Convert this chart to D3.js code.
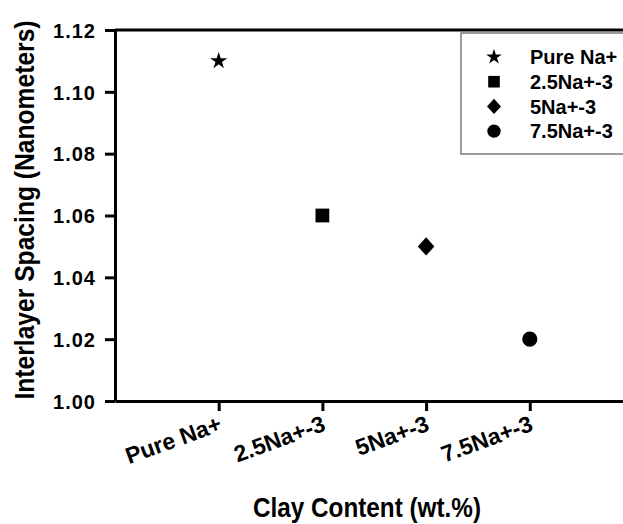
<!DOCTYPE html>
<html>
<head>
<meta charset="utf-8">
<script src="https://cdn.jsdelivr.net/npm/d3@7"></script>
<style>
  html, body { margin: 0; padding: 0; background: #fff; }
  svg { display: block; }
  text { font-family: "Liberation Sans", Arial, sans-serif; font-weight: bold; fill: #000; }
</style>
</head>
<body>
<svg id="chart" width="623" height="524"></svg>
<script>
// Samples and measured interlayer spacing
const categories = ["Pure Na+", "2.5Na+-3", "5Na+-3", "7.5Na+-3"];
const spacing = [1.11, 1.06, 1.05, 1.02];
const symbols = ["star", "square", "diamond", "circle"];
const yTicks = [1.00, 1.02, 1.04, 1.06, 1.08, 1.10, 1.12];

const svg = d3.select("#chart");
const plotLeft = 115, plotTop = 30, plotBottom = 401;

// categories sit at positions 1..4 on an index axis that runs past the right edge
const x = d3.scaleLinear().domain([0, 5]).range([plotLeft, plotLeft + 5 * 103.7]);
const y = d3.scaleLinear().domain([1.00, 1.12]).range([plotBottom, plotTop]);

const symbolTypes = {
  star: d3.symbolStar, square: d3.symbolSquare,
  diamond: d3.symbolDiamond2, circle: d3.symbolCircle
};
const plotSizes = { star: 90, square: 190, diamond: 175, circle: 180 };
const legendSizes = { star: 75, square: 135, diamond: 125, circle: 140 };
// the diamond marker is a little taller than it is wide
const symbolStretch = { star: 1, square: 1, diamond: 1.1, circle: 1 };

// frame: top border line
svg.append("line")
  .attr("x1", plotLeft).attr("x2", 623)
  .attr("y1", plotTop).attr("y2", plotTop)
  .attr("stroke", "#000").attr("stroke-width", 3);

// y axis
const yAxis = svg.append("g")
  .attr("transform", `translate(${plotLeft},0)`)
  .call(d3.axisLeft(y).tickValues(yTicks).tickFormat(d3.format(".2f"))
        .tickSize(10).tickPadding(9).tickSizeOuter(0));
yAxis.select(".domain").attr("stroke-width", 3);
yAxis.selectAll(".tick line").attr("stroke-width", 3);
yAxis.selectAll(".tick text")
  .style("font-size", "20px").style("letter-spacing", "1px")
  .attr("dy", "0.36em");

// x axis
const xAxis = svg.append("g")
  .attr("transform", `translate(0,${plotBottom})`)
  .call(d3.axisBottom(x).tickValues([1, 2, 3, 4])
        .tickFormat(i => categories[i - 1]).tickSize(10).tickSizeOuter(0));
xAxis.select(".domain").attr("stroke-width", 3);
xAxis.selectAll(".tick line").attr("stroke-width", 3);
xAxis.selectAll(".tick text")
  .style("font-size", "23px")
  .attr("text-anchor", "end")
  .attr("x", 0).attr("y", 0).attr("dy", 0)
  .attr("transform", "translate(4,29) rotate(-20)");

// data points
svg.append("g").selectAll("path")
  .data(categories)
  .join("path")
  .attr("transform", (d, i) =>
    `translate(${x(i + 1)},${y(spacing[i])}) scale(1,${symbolStretch[symbols[i]]})`)
  .attr("d", (d, i) => d3.symbol(symbolTypes[symbols[i]], plotSizes[symbols[i]])())
  .attr("fill", "#000");

// legend
const legend = svg.append("g");
legend.append("rect")
  .attr("x", 461).attr("y", 33).attr("width", 200).attr("height", 121)
  .attr("fill", "#fff").attr("stroke", "#666").attr("stroke-width", 1.3);
const rows = legend.selectAll("g.row")
  .data(categories)
  .join("g")
  .attr("class", "row")
  .attr("transform", (d, i) => `translate(0,${57 + i * 24.7})`);
rows.append("path")
  .attr("transform", (d, i) => `translate(494,0) scale(1,${symbolStretch[symbols[i]]})`)
  .attr("d", (d, i) => d3.symbol(symbolTypes[symbols[i]], legendSizes[symbols[i]])())
  .attr("fill", "#000");
rows.append("text")
  .attr("x", 530).attr("dy", "0.36em")
  .style("font-size", "20px")
  .text(d => d);

// axis titles
svg.append("text")
  .attr("transform", "translate(367,517) scale(0.9,1)")
  .attr("text-anchor", "middle")
  .style("font-size", "27px")
  .text("Clay Content (wt.%)");
svg.append("text")
  .attr("transform", "translate(34,210) rotate(-90) scale(0.88,1)")
  .attr("text-anchor", "middle")
  .style("font-size", "28px")
  .text("Interlayer Spacing (Nanometers)");
</script>
</body>
</html>
